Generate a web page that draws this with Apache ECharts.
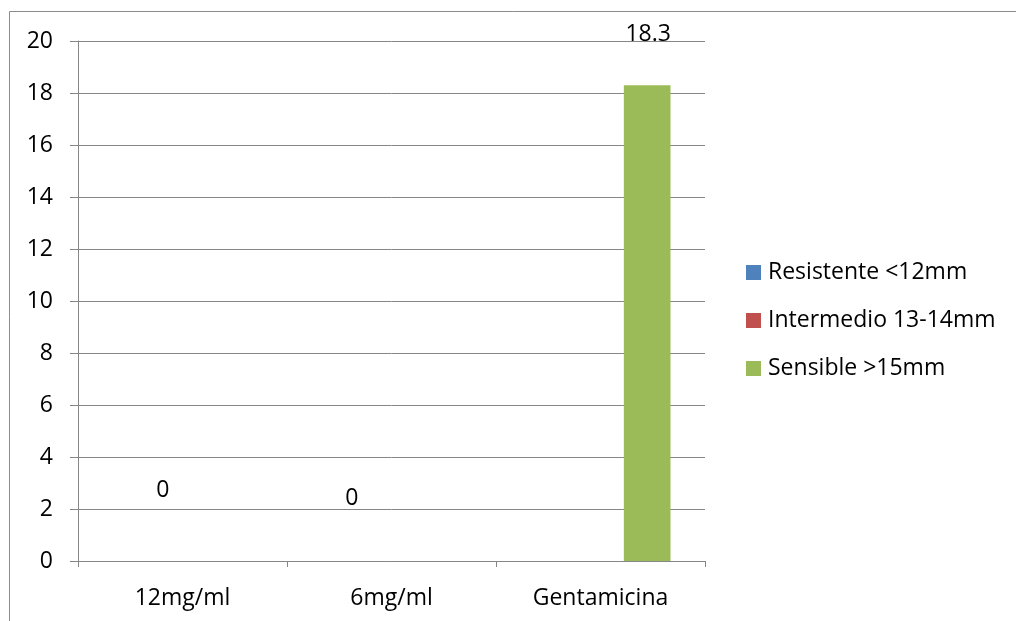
<!DOCTYPE html>
<html>
<head>
<meta charset="utf-8">
<script src="https://cdn.jsdelivr.net/npm/echarts@6/dist/echarts.min.js"></script>
<style>
  html, body { margin: 0; padding: 0; background: #fff; }
  #chart { width: 1016px; height: 621px; }
</style>
</head>
<body>
<div id="chart"></div>
<script>
// Inhibition zone readings per treatment
const categories = ['12mg/ml', '6mg/ml', 'Gentamicina'];
const seriesNames = ['Resistente <12mm', 'Intermedio 13-14mm', 'Sensible >15mm'];
const resistente = [0, 0, null];
const intermedio = [null, null, null];
const sensible = [null, null, 18.3];
const yTicks = [0, 2, 4, 6, 8, 10, 12, 14, 16, 18, 20];

const FONT = 'Open Sans';
const FS = 23;
const colors = ['#4F81BD', '#C0504D', '#9BBB59'];

// label nudges for each data point (the labels sit away from their bars)
const labelOffsets = {
  0: [[27, -54], [7, -46], [0, 0]],
  1: [[0, 0], [0, 0], [0, 0]],
  2: [[0, 0], [0, 0], [1, -34]]
};

function buildData(values, idx) {
  return values.map((v, i) => ({
    value: v,
    label: { offset: labelOffsets[idx][i] }
  }));
}

const chart = echarts.init(document.getElementById('chart'), null, { renderer: 'canvas' });

const seriesValues = [resistente, intermedio, sensible];

chart.setOption({
  backgroundColor: '#ffffff',
  animation: false,
  textStyle: { fontFamily: FONT },
  graphic: [{
    type: 'rect',
    shape: { x: 9.5, y: 11.5, width: 1020, height: 630 },
    style: { fill: 'none', stroke: '#8c8c8c', lineWidth: 1 },
    silent: true
  }],
  grid: { left: 78, top: 41, right: 311, bottom: 60, containLabel: false },
  legend: {
    orient: 'vertical',
    left: 741,
    top: 256,
    itemWidth: 15,
    itemHeight: 15,
    itemGap: 25,
    icon: 'rect',
    data: seriesNames,
    textStyle: { fontFamily: FONT, fontSize: FS, color: '#000', padding: [0, 0, 0, 2] }
  },
  xAxis: {
    type: 'category',
    data: categories,
    axisLine: { lineStyle: { color: '#868686', width: 1 } },
    axisTick: { show: true, length: 6, alignWithLabel: false, lineStyle: { color: '#868686' } },
    axisLabel: { fontFamily: FONT, fontSize: FS, color: '#000', margin: 26 }
  },
  yAxis: {
    type: 'value',
    min: yTicks[0],
    max: yTicks[yTicks.length - 1],
    interval: yTicks[1] - yTicks[0],
    axisLine: { show: true, lineStyle: { color: '#868686', width: 1 } },
    axisTick: { show: true, length: 8, lineStyle: { color: '#868686' } },
    axisLabel: { fontFamily: FONT, fontSize: FS, color: '#000', margin: 25 },
    splitLine: { show: true, lineStyle: { color: '#868686', width: 1 } }
  },
  series: seriesValues.map((vals, idx) => ({
    name: seriesNames[idx],
    type: 'bar',
    data: buildData(vals, idx),
    barGap: '0%',
    barCategoryGap: '33%',
    itemStyle: { color: colors[idx] },
    label: {
      show: true,
      position: 'top',
      fontFamily: FONT,
      fontSize: FS,
      color: '#000',
      formatter: p => (p.value === null || p.value === undefined) ? '' : String(p.value)
    }
  }))
});
</script>
</body>
</html>
